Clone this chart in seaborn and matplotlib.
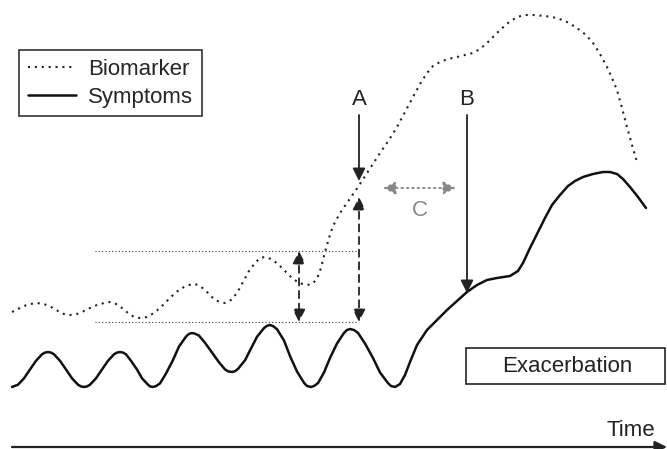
import matplotlib
matplotlib.use("Agg")
import matplotlib.pyplot as plt
import seaborn as sns
import pandas as pd

# 곡선 데이터 (그림의 픽셀 좌표에서 읽은 값, y는 아래로 증가)
symptom_x = [12, 18, 24, 30, 36, 42, 45, 48, 51, 54, 60, 66, 72, 78, 81, 84, 87, 90, 96, 102, 108,
             114, 117, 120, 123, 126, 131, 137, 142, 148, 150, 153, 156, 160, 166, 173, 179, 186, 189,
             192, 195, 199, 205, 212, 219, 225, 228, 232, 235, 238, 245, 251, 257, 264, 267, 270, 273,
             277, 284, 290, 297, 304, 307, 311, 314, 318, 324, 330, 337, 344, 347, 350, 354, 358, 365,
             373, 380, 388, 391, 395, 400, 405, 410, 417, 427, 437, 447, 457, 467, 477, 487, 497,
             510, 518, 523, 530, 536, 540, 545, 552, 560, 568, 575, 583, 593, 603, 610, 617, 623, 630,
             638, 646]
symptom_y = [387, 384.7, 378.3, 369.5, 360.8, 354.3, 352.6, 352, 352.6, 354.3, 360.8, 369.5, 378.3,
             384.7, 386.4, 387, 386.4, 384.7, 378.3, 369.5, 360.8, 354.3, 352.6, 352, 352.6, 354.3,
             360.8, 369.5, 378.3, 384.7, 386.4, 387, 386.1, 383.4, 373.5, 360, 346.5, 336.6, 333.9,
             333, 333.7, 335.6, 342.8, 352.5, 362.3, 369.4, 371.3, 372, 371.2, 368.9, 360.3, 348.5,
             336.8, 328.1, 325.8, 325, 326.1, 329.2, 340.5, 356, 371.5, 382.8, 386, 387, 386, 383.1,
             372.5, 358, 343.5, 332.9, 330, 329, 330, 332.9, 343.5, 358, 372.5, 383.1, 386, 387,
             384, 375, 362, 345, 330, 320, 310, 301, 292, 285, 280, 278, 276, 271, 263, 248, 236,
             228, 218, 205, 195, 186, 181, 177, 174, 172, 172, 174, 179, 187, 197, 208]

biomarker_x = [12, 18, 24, 30, 37, 44, 51, 58, 64, 70, 77, 84, 90, 97, 104, 110, 116, 122, 128, 134,
               140, 147, 154, 161, 168, 175, 182, 189, 195, 200, 205, 210, 215, 220, 225, 231, 237,
               243, 249, 255, 260, 265, 271, 278, 285, 292, 299, 307, 312, 317, 321, 325, 329, 333,
               340, 349, 358, 369, 380, 389, 397, 405, 413, 420, 427, 433, 440, 448, 457, 465, 473,
               480, 487, 494, 500, 508, 517, 525, 533, 545, 557, 567, 577, 586, 593, 600, 607, 612,
               617, 622, 627, 632, 637]
biomarker_y = [312, 309, 306, 304, 303, 304, 307, 311, 314, 315, 314, 311, 308, 305, 303, 302, 304,
               308, 313, 317, 318, 317, 313, 307, 300, 293, 288, 285, 284, 286, 290, 295, 300, 302,
               303, 300, 293, 282, 271, 263, 258, 257, 259, 264, 271, 278, 283, 285, 284, 279, 268,
               252, 238, 226, 213, 200, 187, 170, 153, 140, 127, 112, 97, 84, 73, 66, 62, 59, 57,
               55, 53, 49, 43, 36, 30, 23, 17, 15, 15, 16, 18, 22, 28, 35, 43, 54, 67, 78, 90, 108,
               127, 145, 162]

# 기준선 (최저/최고 기준치)
ref_levels = [251, 322]
ref_start, ref_end = 95, 358

# 화살표 A, B, C
arrow_a = {"x": 359, "top": 115, "tip": 181}
arrow_b = {"x": 467, "top": 115, "tip": 293}
arrow_c = {"y": 188, "left": 383, "right": 456}
gap_arrows = [(299, 251, 322), (359, 197, 322)]

labels = ["Biomarker", "Symptoms"]

sns.set_style("white")
plt.rcParams["font.family"] = ["Liberation Sans", "DejaVu Sans"]

fig = plt.figure(figsize=(6.67, 4.49), dpi=100)
ax = fig.add_axes([0, 0, 1, 1])

bio = pd.DataFrame({"x": biomarker_x, "y": biomarker_y})
sym = pd.DataFrame({"x": symptom_x, "y": symptom_y})

sns.lineplot(data=bio, x="x", y="y", sort=False, estimator=None, ax=ax,
             color="#222222", lw=1.5, linestyle=(0, (1, 2.3)), label=labels[0])
sns.lineplot(data=sym, x="x", y="y", sort=False, estimator=None, ax=ax,
             color="#111111", lw=1.8, label=labels[1])

for lvl in ref_levels:
    ax.plot([ref_start, ref_end], [lvl, lvl], color="#333333", lw=0.8,
            linestyle=(0, (1, 2)))

# 점선 양방향 화살표 (기준선 간격)
for gx, gy0, gy1 in gap_arrows:
    ax.annotate("", xy=(gx, gy1), xytext=(gx, gy0),
                arrowprops=dict(arrowstyle="<|-|>", color="#222222", lw=1.3,
                                linestyle=(0, (4, 3)), mutation_scale=19,
                                shrinkA=0, shrinkB=0))

# A, B 화살표
for lab, arr in [("A", arrow_a), ("B", arrow_b)]:
    ax.annotate("", xy=(arr["x"], arr["tip"]), xytext=(arr["x"], arr["top"]),
                arrowprops=dict(arrowstyle="-|>", color="#222222", lw=1.3,
                                mutation_scale=19, shrinkA=0, shrinkB=0))
    ax.text(arr["x"], arr["top"] - 5, lab, ha="center", va="bottom", fontsize=16,
            color="#222222")

# C 화살표 (회색 점선)
ax.annotate("", xy=(arrow_c["right"], arrow_c["y"]), xytext=(arrow_c["left"], arrow_c["y"]),
            arrowprops=dict(arrowstyle="<|-|>", color="#888888", lw=1.3,
                            linestyle=(0, (1, 2)), mutation_scale=19,
                            shrinkA=0, shrinkB=0))
ax.text((arrow_c["left"] + arrow_c["right"]) / 2, arrow_c["y"] + 22, "C", ha="center",
        va="center", fontsize=16, color="#888888")

# Exacerbation 상자
ax.text(567, 367, "Exacerbation", ha="center", va="center", fontsize=16, color="#222222")
ax.add_patch(plt.Rectangle((466, 348), 199, 36, fill=False, edgecolor="#222222", lw=1.2))

# 시간 축
ax.annotate("", xy=(667, 447), xytext=(12, 447),
            arrowprops=dict(arrowstyle="-|>", color="#222222", lw=1.6,
                            mutation_scale=18, shrinkA=0, shrinkB=0),
            annotation_clip=False)
ax.text(655, 430, "Time", ha="right", va="center", fontsize=16, color="#222222")

leg = ax.legend(loc="upper left", bbox_to_anchor=(19 / 667, 1 - 50 / 449), fontsize=16,
                frameon=True, fancybox=False, framealpha=1, edgecolor="#333333",
                borderaxespad=0, handlelength=2.15, handletextpad=0.55, labelspacing=0.3,
                borderpad=0.4)
leg.get_frame().set_linewidth(1.2)

ax.set_xlim(0, 667)
ax.set_ylim(449, 0)
ax.axis("off")

fig.savefig("out.png", dpi=100)
